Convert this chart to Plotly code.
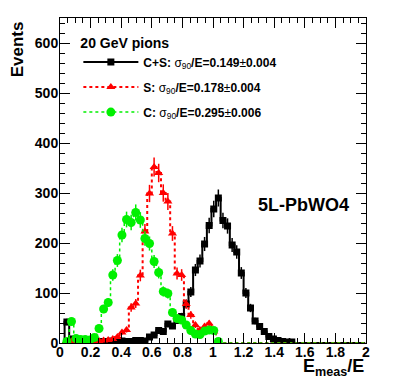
import numpy as np
import plotly.graph_objects as go

# histogram binning: 100 bins on [0, 3], only [0, 2] is shown
bin_width = 0.03
n_shown = 67

# Emeas/E, 20 GeV pions, 5L-PbWO4
cs_counts = [0, 42, 8, 6, 3, 2, 2, 2, 2, 3, 2, 4, 5, 4, 3, 3, 5, 5, 4, 12,
             16, 25, 23, 38, 34, 45, 53, 78, 102, 146, 164, 198, 235, 268, 290, 245, 234, 196, 182, 140,
             100, 70, 44, 33, 23, 13, 8, 5, 3, 2, 2, 0, 0, 0, 0, 0, 0, 0, 0, 0,
             0, 0, 0, 0, 0, 0, 0]
s_counts = [0, 4, 3, 2, 2, 2, 3, 4, 4, 5, 6, 8, 12, 21, 26, 71, 79, 135, 223, 299,
            352, 340, 300, 283, 219, 139, 136, 78, 56, 36, 26, 33, 39, 23, 2, 0, 0, 0, 0, 0,
            0, 0, 0, 0, 0, 0, 0, 0, 0, 0, 0, 0, 0, 0, 0, 0, 0, 0, 0, 0,
            0, 0, 0, 0, 0, 0, 0]
c_counts = [0, 3, 43, 9, 7, 7, 6, 11, 29, 68, 81, 136, 165, 216, 247, 241, 261, 246, 209, 199,
            163, 141, 103, 99, 61, 49, 46, 36, 25, 18, 17, 24, 26, 25, 3, 0, 0, 0, 0, 0,
            0, 0, 0, 0, 0, 0, 0, 0, 0, 0, 0, 0, 0, 0, 0, 0, 0, 0, 0, 0,
            0, 0, 0, 0, 0, 0, 0]

series_names = ["<b>C+S: </b>σ<sub>90</sub><b>/E=0.149</b>±<b>0.004</b>",
                "<b>S: </b>σ<sub>90</sub><b>/E=0.178</b>±<b>0.004</b>",
                "<b>C: </b>σ<sub>90</sub><b>/E=0.295</b>±<b>0.006</b>"]

centers = (np.arange(n_shown) + 0.5) * bin_width

FONT = "Liberation Sans, Arial, Helvetica, sans-serif"

styles = [
    dict(counts=cs_counts, color="black", dash="solid", lw=2, symbol="square", size=7),
    dict(counts=s_counts, color="#ff0000", dash="dot", lw=2, symbol="triangle-up", size=8),
    dict(counts=c_counts, color="#00f000", dash="dot", lw=1.5, symbol="circle", size=9),
]

fig = go.Figure()

for i, st in enumerate(styles):
    y = np.array(st["counts"], dtype=float)
    # step outline over every bin
    fig.add_trace(go.Scatter(
        x=centers, y=y, mode="lines", line_shape="hvh",
        line=dict(color=st["color"], width=st["lw"], dash=st["dash"]),
        showlegend=False, hoverinfo="skip"))
    # markers with sqrt(N) errors on filled bins only
    nz = y > 0
    fig.add_trace(go.Scatter(
        x=centers[nz], y=y[nz], mode="markers",
        marker=dict(symbol=st["symbol"], size=st["size"], color=st["color"]),
        error_y=dict(type="data", array=np.sqrt(y[nz]), width=0,
                     thickness=1.5, color=st["color"]),
        showlegend=False))
    # legend entry
    fig.add_trace(go.Scatter(
        x=[None], y=[None], mode="lines+markers", name=series_names[i],
        legendgroup=str(i),
        line=dict(color=st["color"], width=st["lw"], dash=st["dash"]),
        marker=dict(symbol=st["symbol"], size=st["size"], color=st["color"])))

axis_common = dict(
    showline=True, linecolor="black", linewidth=1, mirror="ticks",
    ticks="inside", ticklen=10, tickwidth=1, tickcolor="black",
    showgrid=False, zeroline=False,
    tickfont=dict(family=FONT, size=14, color="black", weight="bold"),
)

# the page body adds an 8px offset, so the figure is 8px smaller than the window
fig.update_layout(
    width=399, height=382,
    margin=dict(l=52, r=41, t=10, b=47, autoexpand=False),
    paper_bgcolor="white", plot_bgcolor="white",
    xaxis=dict(range=[0, 2], dtick=0.2, tick0=0, ticklabelstandoff=-4,
               minor=dict(ticks="inside", ticklen=5, dtick=0.05, tickcolor="black"),
               **axis_common),
    yaxis=dict(range=[0, 650], dtick=100, tick0=0, ticklabelstandoff=-2,
               minor=dict(ticks="inside", ticklen=5, dtick=20, tickcolor="black"),
               **axis_common),
    legend=dict(x=0.06, y=0.965, xanchor="left", yanchor="top",
                bgcolor="rgba(0,0,0,0)", tracegroupgap=6, itemwidth=55,
                title=dict(text="<b>20 GeV pions</b>",
                           font=dict(family=FONT, size=14, color="black")),
                font=dict(family=FONT, size=12, color="black")),
    annotations=[
        dict(text="<b>Events</b>", xref="paper", yref="paper", x=-0.139, y=0.905,
             xanchor="center", yanchor="middle", textangle=-90, showarrow=False,
             font=dict(family=FONT, size=17, color="black")),
        dict(text="<b>E<sub>meas</sub>/E</b>", xref="paper", yref="paper", x=1.0, y=-0.035,
             xanchor="right", yanchor="top", showarrow=False,
             font=dict(family=FONT, size=18, color="black")),
        dict(text="<b>5L-PbWO4</b>", xref="paper", yref="paper", x=0.795, y=0.425,
             xanchor="center", yanchor="middle", showarrow=False,
             font=dict(family=FONT, size=18, color="black")),
    ],
)

fig.write_html("out.html")
